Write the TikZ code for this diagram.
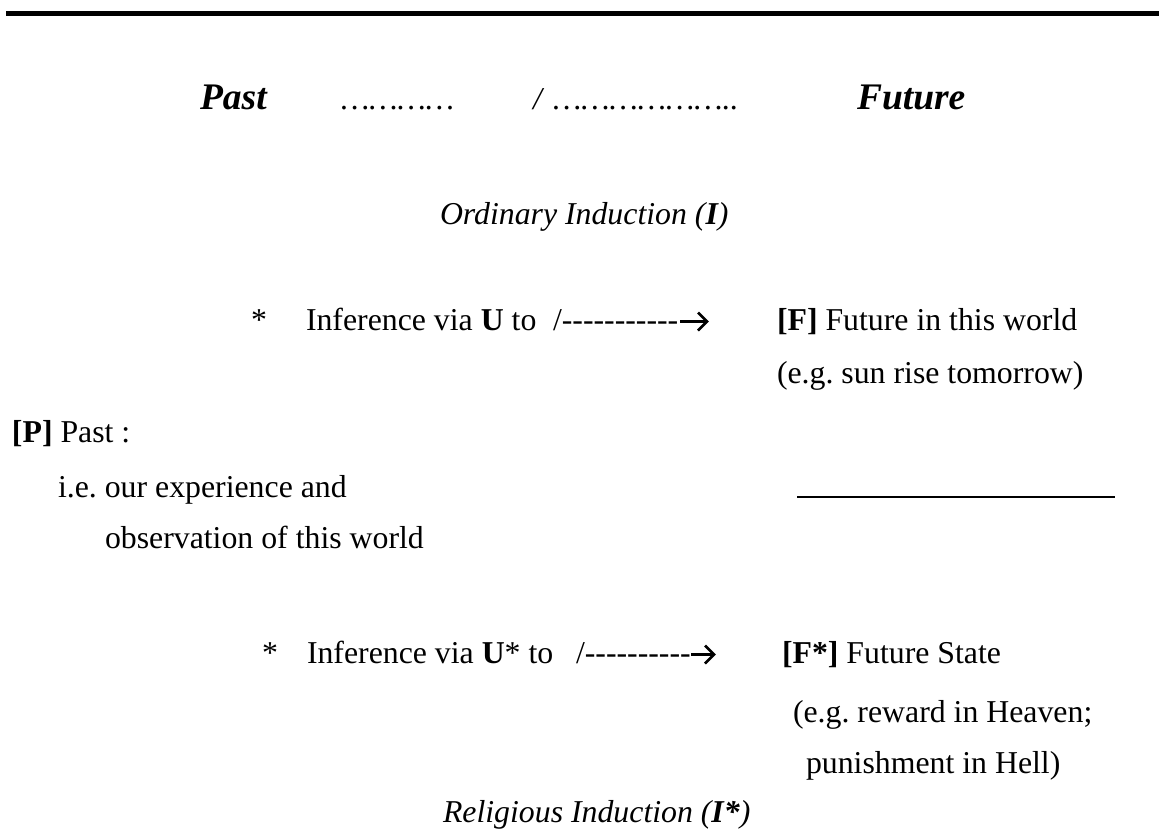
\documentclass[tikz,border=0pt]{standalone}
\usepackage{fontspec}
\setmainfont{Liberation Serif}
\def\hy{-\kern0pt}
\frenchspacing
\tikzset{
  txt/.style={anchor=base west, inner sep=0pt, outer sep=0pt, font=\fontsize{31.8}{38}\selectfont\frenchspacing},
  itx/.style={txt, font=\fontsize{31.8}{38}\selectfont\itshape\frenchspacing},
  head/.style={txt, font=\fontsize{37.5}{45}\selectfont\bfseries\itshape},
  chev/.style={line width=2.6pt, line cap=butt, line join=miter}
}
\begin{document}
\begin{tikzpicture}[x=1pt,y=-1pt]
\useasboundingbox (0,0) rectangle (1159,831);
\fill[black] (6,10.5) rectangle (1159,15.5);
% header
\node[head] (past) at (200,109) {Past};
\node[itx] (dotsA) at (341,109) {…………};
\node[itx] (slash) at (533,109) {/};
\node[itx] (dotsB) at (553,109) {………………..};
\node[head] (future) at (857,109) {Future};
\node[itx] (ord) at (440,224) {Ordinary Induction (\textbf{I})};
% ordinary
\node[txt] (starA) at (251,330) {*};
\node[txt] (infA) at (306,330) {Inference via \textbf{U} to};
\node[txt] (dashA) at (553,330) {/\hy\hy\hy\hy\hy\hy\hy\hy\hy\hy\hy};
\coordinate (aAs) at (680,321.5);
\coordinate (aAe) at (707,321.5);
\draw[chev] (aAs) -- (aAe);
\draw[chev] ([shift={(-9,-9)}]aAe) -- (aAe) -- ([shift={(-9,9)}]aAe);
\node[txt] (fA) at (777,330) {\textbf{[F]} Future in this world};
\node[txt] (exA) at (777,383) {(e.g. sun rise tomorrow)};
% past
\node[txt] (p) at (12,442) {\textbf{[P]} Past :};
\node[txt] (ie) at (58,497) {i.e. our experience and};
\coordinate (ulA) at (797,497);
\coordinate (ulB) at (1115,497);
\draw[line width=1.6pt] (ulA) -- (ulB);
\node[txt] (obs) at (105,548) {observation of this world};
% religious
\node[txt] (starB) at (262,663) {*};
\node[txt] (infB) at (307,663) {Inference via \textbf{U}* to};
\node[txt] (dashB) at (576,663) {/\hy\hy\hy\hy\hy\hy\hy\hy\hy\hy};
\coordinate (aBs) at (691,654.5);
\coordinate (aBe) at (714,654.5);
\draw[chev] (aBs) -- (aBe);
\draw[chev] ([shift={(-9,-9)}]aBe) -- (aBe) -- ([shift={(-9,9)}]aBe);
\node[txt] (fB) at (782,663) {\textbf{[F*]} Future State};
\node[txt] (exB) at (793,722) {(e.g. reward in Heaven;};
\node[txt] (exC) at (806,773) {punishment in Hell)};
\node[itx] (rel) at (443,822) {Religious Induction (\textbf{I*})};
\end{tikzpicture}
\end{document}
